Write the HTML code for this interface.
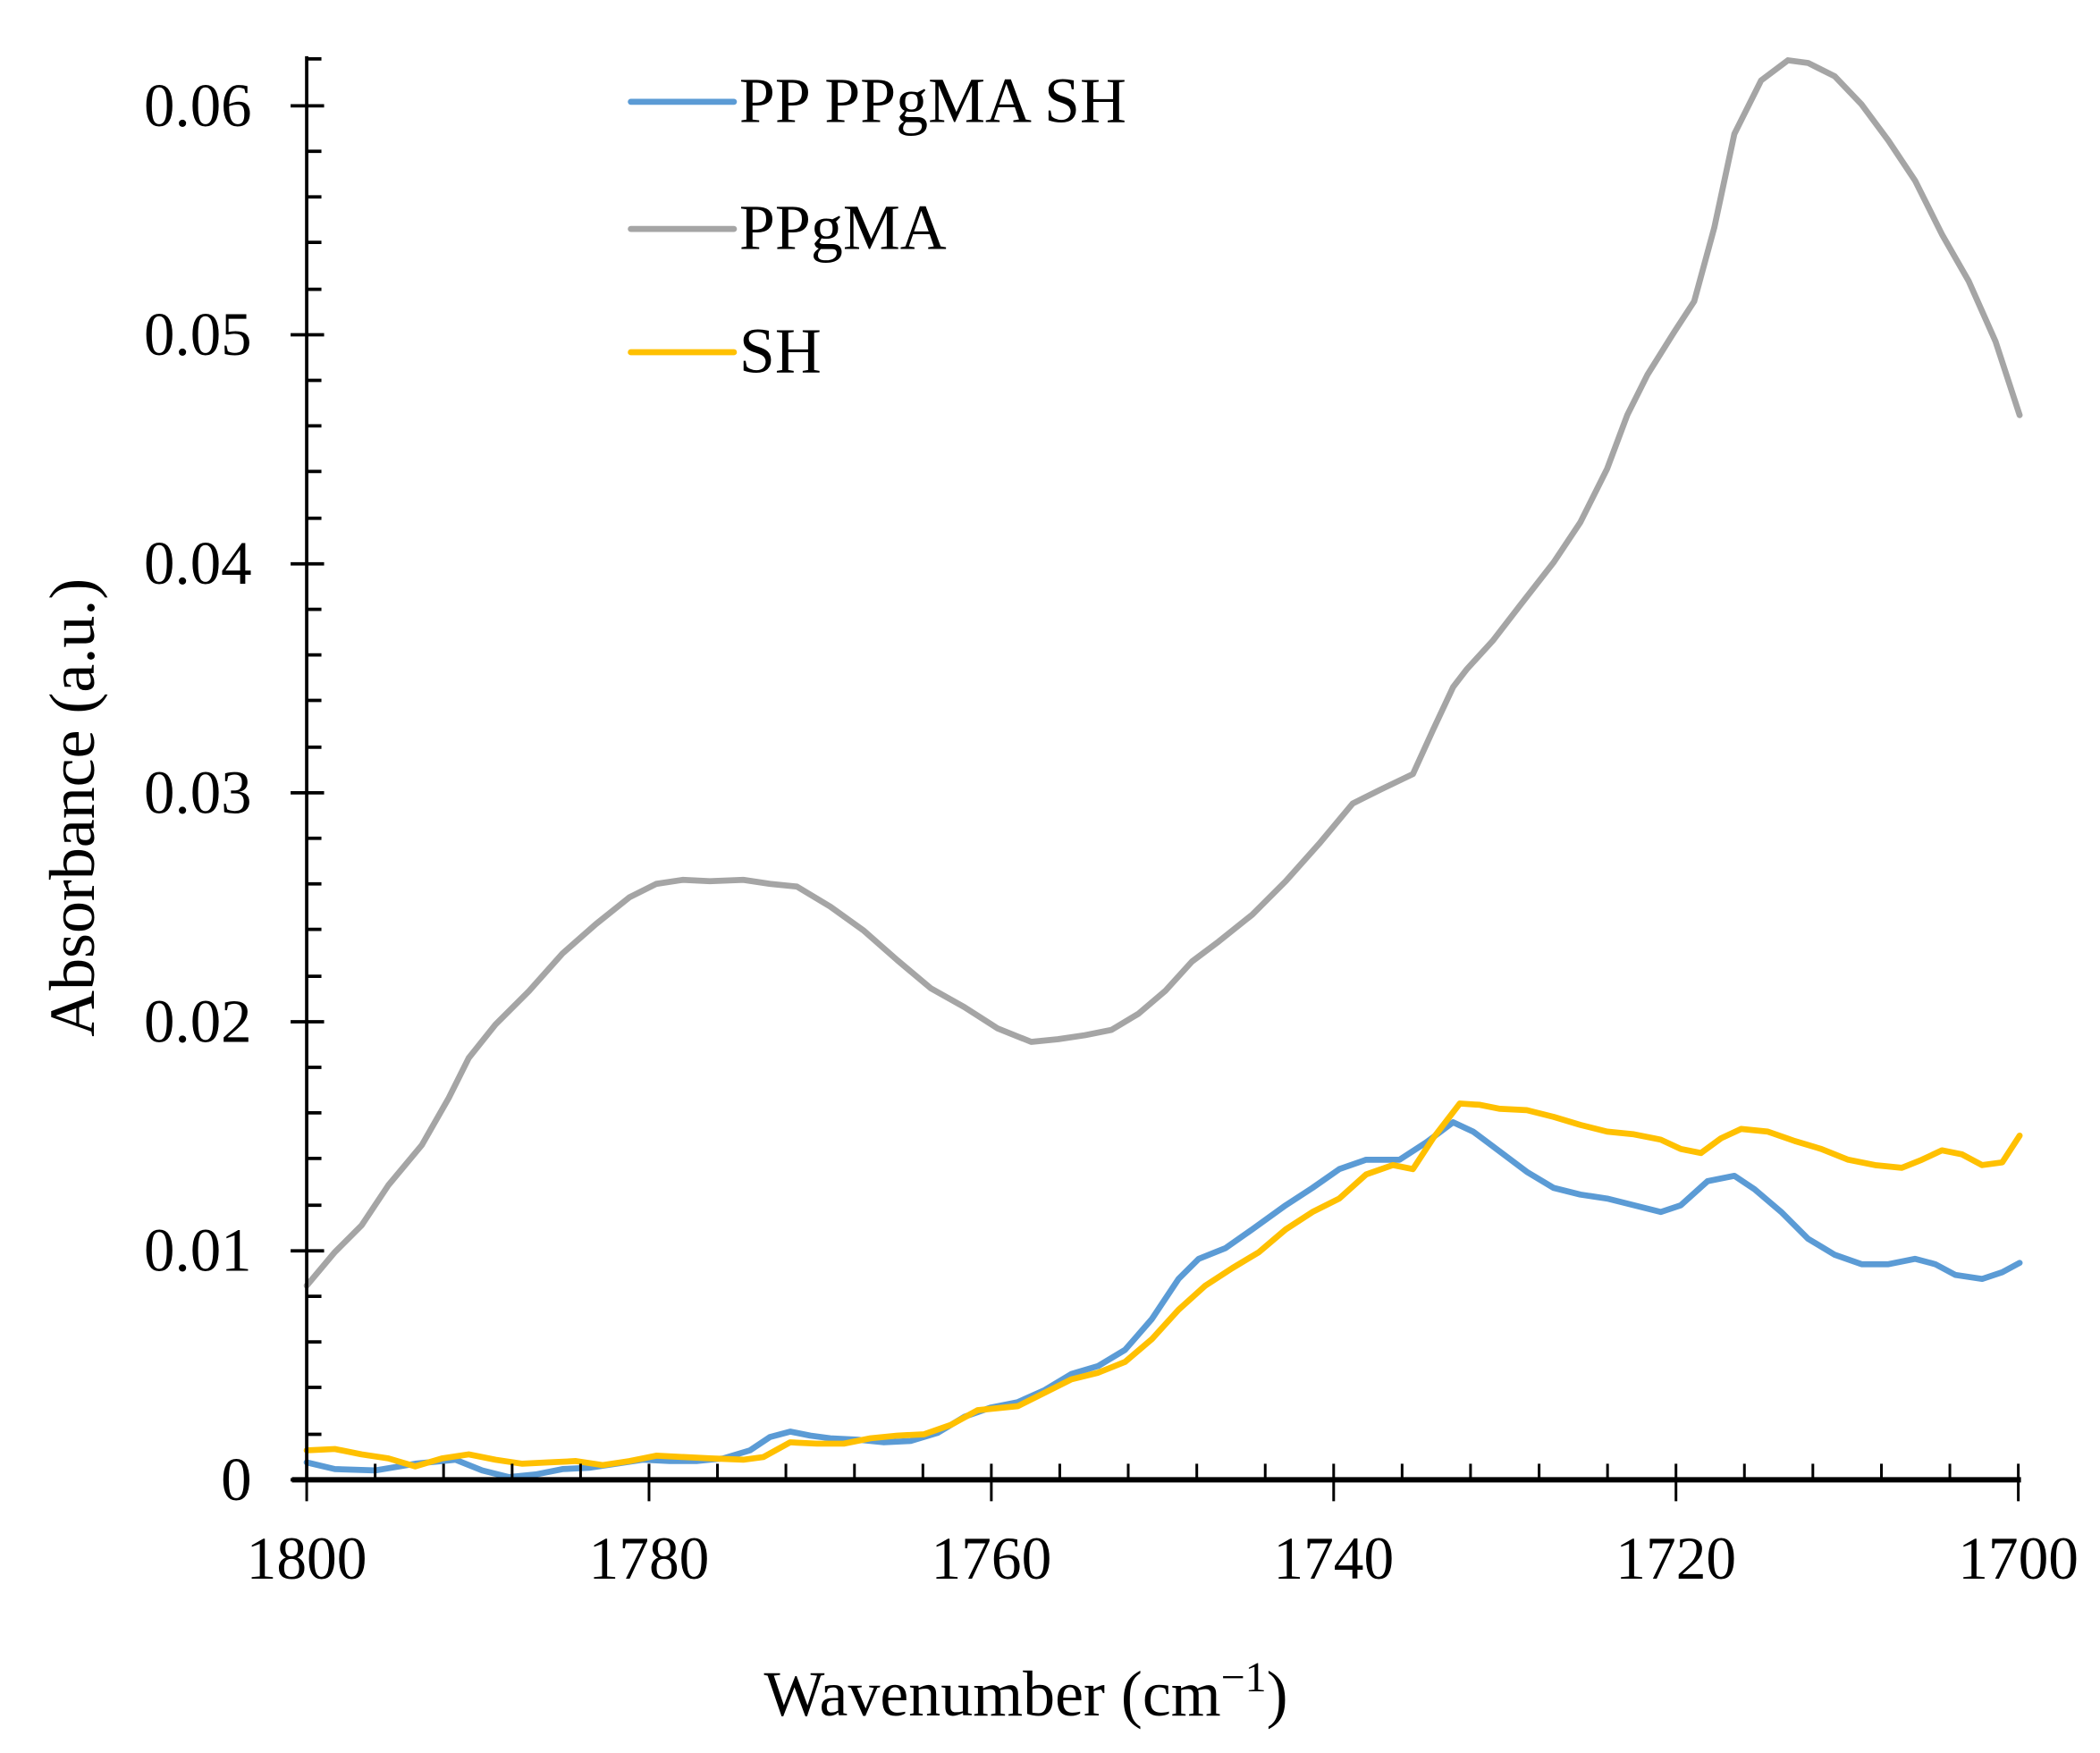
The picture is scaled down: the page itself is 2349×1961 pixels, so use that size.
<!DOCTYPE html>
<html><head><meta charset="utf-8"><style>html,body{margin:0;padding:0;background:#fff}svg{display:block}</style></head>
<body>
<svg width="2349" height="1961" viewBox="0 0 1568 1309" preserveAspectRatio="none" xmlns="http://www.w3.org/2000/svg" font-family="Liberation Serif, serif">
<rect width="1568" height="1309" fill="#fff"/>
<g fill="none" stroke-linejoin="round" stroke-linecap="round" stroke-width="4.5">
<polyline stroke="#a5a5a5" points="229,960 250,935 270,915 290,885 315,855 335,820 350,790 370,765 395,740 420,712 445,690 470,670 490,660 510,657 530,658 555,657 575,660 595,662 620,677 645,695 670,717 695,738 720,752 745,768 770,778 790,776 810,773 830,769 850,757 870,740 890,718 910,703 935,683 960,658 985,630 1010,600 1030,590 1055,578 1070,545 1085,513 1095,500 1115,478 1135,452 1160,420 1180,390 1200,350 1215,310 1230,280 1250,248 1265,225 1280,170 1295,100 1315,60 1335,45 1350,47 1370,57 1390,78 1410,105 1430,135 1450,175 1470,210 1490,255 1508,310"/>
<polyline stroke="#5b9bd5" points="229,1092 250,1097 280,1098 310,1093 340,1090 360,1098 380,1103 400,1101 420,1097 440,1096 460,1093 480,1090 500,1091 520,1091 540,1089 560,1083 575,1073 590,1069 605,1072 620,1074 640,1075 660,1077 680,1076 700,1070 720,1058 740,1051 760,1047 780,1038 800,1026 820,1020 840,1008 860,985 880,955 895,940 915,932 935,918 960,900 980,887 1000,873 1020,866 1045,866 1065,853 1085,838 1100,845 1120,860 1140,875 1160,887 1180,892 1200,895 1220,900 1240,905 1255,900 1275,882 1295,878 1310,888 1330,905 1350,925 1370,937 1390,944 1410,944 1430,940 1445,944 1460,952 1480,955 1495,950 1508,943"/>
<polyline stroke="#ffc000" points="229,1083 250,1082 270,1086 290,1089 310,1095 330,1089 350,1086 370,1090 390,1093 410,1092 430,1091 450,1094 470,1091 490,1087 510,1088 530,1089 555,1090 570,1088 590,1077 610,1078 630,1078 650,1074 670,1072 690,1071 710,1064 730,1053 760,1050 780,1040 800,1030 820,1025 840,1017 860,1000 880,978 900,960 920,947 940,935 960,918 980,905 1000,895 1020,877 1040,870 1055,873 1070,850 1090,824 1105,825 1120,828 1140,829 1160,834 1180,840 1200,845 1220,847 1240,851 1255,858 1270,861 1285,850 1300,843 1320,845 1340,852 1360,858 1380,866 1400,870 1420,872 1435,866 1450,859 1465,862 1480,870 1495,868 1508,848"/>
</g>
<g stroke="#000">
<line x1="229" y1="42" x2="229" y2="1106" stroke-width="2.5"/>
<line x1="218" y1="1105" x2="1509" y2="1105" stroke-width="4"/>
<g stroke-width="2.5">
<line x1="217" y1="1105" x2="242" y2="1105"/><line x1="217" y1="934" x2="242" y2="934"/><line x1="217" y1="763" x2="242" y2="763"/><line x1="217" y1="592" x2="242" y2="592"/><line x1="217" y1="421" x2="242" y2="421"/><line x1="217" y1="250" x2="242" y2="250"/><line x1="217" y1="79" x2="242" y2="79"/>
<line x1="229" y1="44" x2="240" y2="44"/>
<line x1="229" y1="113" x2="240" y2="113"/><line x1="229" y1="147" x2="240" y2="147"/><line x1="229" y1="181" x2="240" y2="181"/><line x1="229" y1="216" x2="240" y2="216"/>
<line x1="229" y1="284" x2="240" y2="284"/><line x1="229" y1="318" x2="240" y2="318"/><line x1="229" y1="352" x2="240" y2="352"/><line x1="229" y1="387" x2="240" y2="387"/>
<line x1="229" y1="455" x2="240" y2="455"/><line x1="229" y1="489" x2="240" y2="489"/><line x1="229" y1="523" x2="240" y2="523"/><line x1="229" y1="558" x2="240" y2="558"/>
<line x1="229" y1="626" x2="240" y2="626"/><line x1="229" y1="660" x2="240" y2="660"/><line x1="229" y1="694" x2="240" y2="694"/><line x1="229" y1="729" x2="240" y2="729"/>
<line x1="229" y1="797" x2="240" y2="797"/><line x1="229" y1="831" x2="240" y2="831"/><line x1="229" y1="865" x2="240" y2="865"/><line x1="229" y1="900" x2="240" y2="900"/>
<line x1="229" y1="968" x2="240" y2="968"/><line x1="229" y1="1002" x2="240" y2="1002"/><line x1="229" y1="1036" x2="240" y2="1036"/><line x1="229" y1="1071" x2="240" y2="1071"/>
</g>
<g stroke-width="2">
<line x1="229" y1="1093" x2="229" y2="1121"/><line x1="484.6" y1="1093" x2="484.6" y2="1121"/><line x1="740.2" y1="1093" x2="740.2" y2="1121"/><line x1="995.8" y1="1093" x2="995.8" y2="1121"/><line x1="1251.4" y1="1093" x2="1251.4" y2="1121"/><line x1="1507" y1="1093" x2="1507" y2="1121"/>
<line x1="280.1" y1="1093" x2="280.1" y2="1105"/><line x1="331.2" y1="1093" x2="331.2" y2="1105"/><line x1="382.4" y1="1093" x2="382.4" y2="1105"/><line x1="433.5" y1="1093" x2="433.5" y2="1105"/>
<line x1="535.7" y1="1093" x2="535.7" y2="1105"/><line x1="586.8" y1="1093" x2="586.8" y2="1105"/><line x1="638" y1="1093" x2="638" y2="1105"/><line x1="689.1" y1="1093" x2="689.1" y2="1105"/>
<line x1="791.3" y1="1093" x2="791.3" y2="1105"/><line x1="842.4" y1="1093" x2="842.4" y2="1105"/><line x1="893.6" y1="1093" x2="893.6" y2="1105"/><line x1="944.7" y1="1093" x2="944.7" y2="1105"/>
<line x1="1046.9" y1="1093" x2="1046.9" y2="1105"/><line x1="1098" y1="1093" x2="1098" y2="1105"/><line x1="1149.2" y1="1093" x2="1149.2" y2="1105"/><line x1="1200.3" y1="1093" x2="1200.3" y2="1105"/>
<line x1="1302.5" y1="1093" x2="1302.5" y2="1105"/><line x1="1353.6" y1="1093" x2="1353.6" y2="1105"/><line x1="1404.8" y1="1093" x2="1404.8" y2="1105"/><line x1="1455.9" y1="1093" x2="1455.9" y2="1105"/>
</g>
</g>
<g font-size="46" fill="#000" text-anchor="end">
<text x="188" y="1120">0</text><text x="188" y="949">0.01</text><text x="188" y="778">0.02</text><text x="188" y="607">0.03</text><text x="188" y="436">0.04</text><text x="188" y="265">0.05</text><text x="188" y="94">0.06</text>
</g>
<g font-size="45" fill="#000" text-anchor="middle">
<text x="229" y="1179">1800</text><text x="484.6" y="1179">1780</text><text x="740.2" y="1179">1760</text><text x="995.8" y="1179">1740</text><text x="1251.4" y="1179">1720</text><text x="1507" y="1179">1700</text>
</g>
<g font-size="48" fill="#000" text-anchor="middle">
<text x="766" y="1281">Wavenumber (cm<tspan font-size="32" dy="-18">−1</tspan><tspan dy="18">)</tspan></text>
<text transform="translate(70,603) rotate(-90)">Absorbance (a.u.)</text>
</g>
<g stroke-width="4.5" stroke-linecap="round">
<line x1="471" y1="76" x2="548" y2="76" stroke="#5b9bd5"/>
<line x1="471" y1="171" x2="548" y2="171" stroke="#a5a5a5"/>
<line x1="471" y1="263" x2="548" y2="263" stroke="#ffc000"/>
</g>
<g font-size="48" fill="#000">
<text x="552" y="91">PP PPgMA SH</text><text x="552" y="186">PPgMA</text><text x="552" y="278">SH</text>
</g>
</svg>
</body></html>
